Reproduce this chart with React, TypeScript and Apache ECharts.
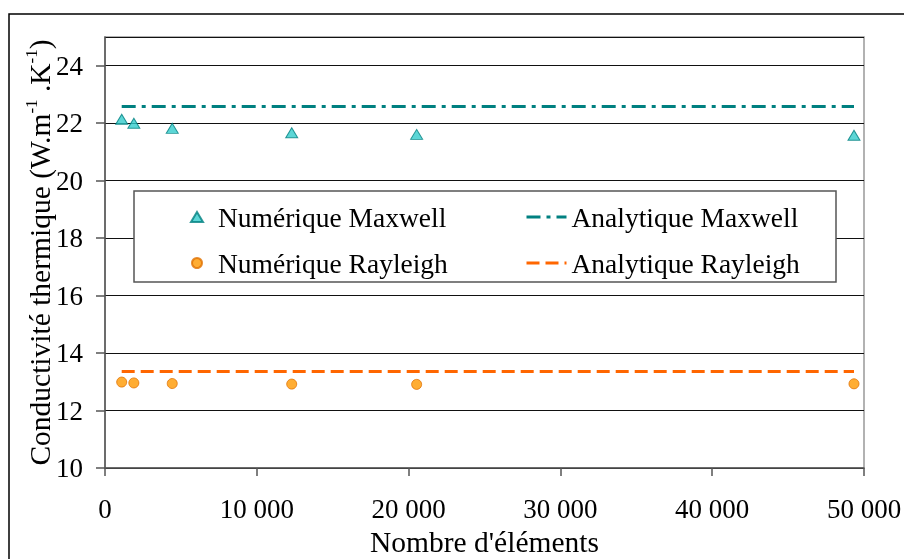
import { useEffect, useRef } from "react";
import * as echarts from "echarts";

// Number of mesh elements for each simulation run
const elementCounts = [1100, 1900, 4430, 12300, 20530, 49340];
// Numerical thermal conductivity (W.m-1.K-1)
const numeriqueMaxwell = [22.14, 22.0, 21.82, 21.67, 21.61, 21.58];
const numeriqueRayleigh = [12.99, 12.96, 12.94, 12.92, 12.91, 12.93];
// Analytical reference values, constant over the mesh sizes
const analytiqueMaxwell = [22.58, 22.58, 22.58, 22.58, 22.58, 22.58];
const analytiqueRayleigh = [13.36, 13.36, 13.36, 13.36, 13.36, 13.36];

const seriesNames = [
  "Numérique Maxwell",
  "Analytique Maxwell",
  "Numérique Rayleigh",
  "Analytique Rayleigh",
];

const FONT = "Liberation Serif";

const pairs = (xs: number[], ys: number[]) => xs.map((x, i) => [x, ys[i]]);

const formatThousands = (v: number) =>
  String(v).replace(/\B(?=(\d{3})+(?!\d))/g, " ");

export default function App() {
  const ref = useRef<HTMLDivElement>(null);

  useEffect(() => {
    if (!ref.current) return;
    const chart = echarts.init(ref.current, null, { renderer: "svg" });

    const legendText = { fontFamily: FONT, fontSize: 27.5, lineHeight: 30, color: "#000" };

    chart.setOption({
      animation: false,
      grid: {
        left: 105,
        right: 40,
        top: 37,
        bottom: 91,
        outerBoundsMode: "none",
        show: true,
        borderColor: "#999",
        borderWidth: 1.5,
      },
      xAxis: {
        type: "value",
        min: 0,
        max: 50000,
        interval: 10000,
        name: "Nombre d'éléments",
        nameLocation: "middle",
        nameGap: 54,
        nameTextStyle: { fontFamily: FONT, fontSize: 29.5, color: "#000" },
        axisLine: { show: true, lineStyle: { color: "#555", width: 1.5 } },
        axisTick: { show: true, length: 8, lineStyle: { color: "#555", width: 1.5 } },
        axisLabel: {
          fontFamily: FONT,
          fontSize: 27,
          color: "#000",
          margin: 27,
          formatter: (v: number) => formatThousands(v),
        },
        splitLine: { show: false },
      },
      yAxis: {
        type: "value",
        min: 10,
        max: 25,
        interval: 2,
        name: "{a|Conductivité thermique (W.m}{s|-1}{a| .K}{s|-1}{a|)}",
        nameLocation: "middle",
        nameGap: 50,
        nameMoveOverlap: false,
        nameTextStyle: {
          fontFamily: FONT,
          color: "#000",
          rich: {
            a: { fontFamily: FONT, fontSize: 29.5, lineHeight: 32, verticalAlign: "bottom", color: "#000" },
            s: { fontFamily: FONT, fontSize: 17, lineHeight: 17, verticalAlign: "top", padding: [0, 0, 24, 0], color: "#000" },
          },
        },
        axisLine: { show: true, lineStyle: { color: "#555", width: 1.5 } },
        axisTick: { show: true, length: 9, lineStyle: { color: "#555", width: 1.5 } },
        axisLabel: {
          fontFamily: FONT,
          fontSize: 27,
          color: "#000",
          margin: 22,
          showMaxLabel: false,
        },
        splitLine: { show: true, lineStyle: { color: "#111", width: 1 } },
      },
      legend: [
        {
          data: [seriesNames[0], seriesNames[2]],
          orient: "vertical",
          left: 190,
          top: 202,
          padding: 0,
          itemWidth: 12,
          itemHeight: 10,
          itemGap: 16,
          textStyle: { ...legendText, padding: [0, 0, 0, 10] },
        },
        {
          data: [seriesNames[1], seriesNames[3]],
          orient: "vertical",
          left: 525,
          top: 202,
          padding: 0,
          itemWidth: 40,
          itemHeight: 10,
          itemGap: 16,
          lineStyle: { width: 3 },
          itemStyle: { opacity: 0 },
          textStyle: legendText,
        },
      ],
      graphic: [
        {
          type: "rect",
          z: 0,
          silent: true,
          shape: { x: 9, y: 14, width: 1000, height: 1000 },
          style: { fill: "none", stroke: "#000", lineWidth: 1.5 },
        },
        {
          type: "rect",
          z: 3,
          silent: true,
          shape: { x: 134, y: 191, width: 702, height: 91 },
          style: { fill: "#fff", stroke: "#555", lineWidth: 1.5 },
        },
      ],
      series: [
        {
          name: seriesNames[0],
          type: "scatter",
          symbol: "triangle",
          symbolSize: [12, 10],
          itemStyle: { color: "#33CCCC", borderColor: "#008080", borderWidth: 1 },
          data: pairs(elementCounts, numeriqueMaxwell),
        },
        {
          name: seriesNames[1],
          type: "line",
          symbol: "none",
          lineStyle: { color: "#008080", width: 3, type: [14, 6, 4, 6] },
          itemStyle: { color: "#008080" },
          data: pairs(elementCounts, analytiqueMaxwell),
        },
        {
          name: seriesNames[2],
          type: "scatter",
          symbol: "circle",
          symbolSize: 10,
          itemStyle: { color: "#FF9900", borderColor: "#E07000", borderWidth: 1 },
          data: pairs(elementCounts, numeriqueRayleigh),
        },
        {
          name: seriesNames[3],
          type: "line",
          symbol: "none",
          lineStyle: { color: "#FF6600", width: 3, type: [13, 6] },
          itemStyle: { color: "#FF6600" },
          data: pairs(elementCounts, analytiqueRayleigh),
        },
      ],
    });

    return () => chart.dispose();
  }, []);

  return (
    <div
      ref={ref}
      style={{ position: "fixed", left: 0, top: 0, width: 904, height: 559 }}
    />
  );
}
